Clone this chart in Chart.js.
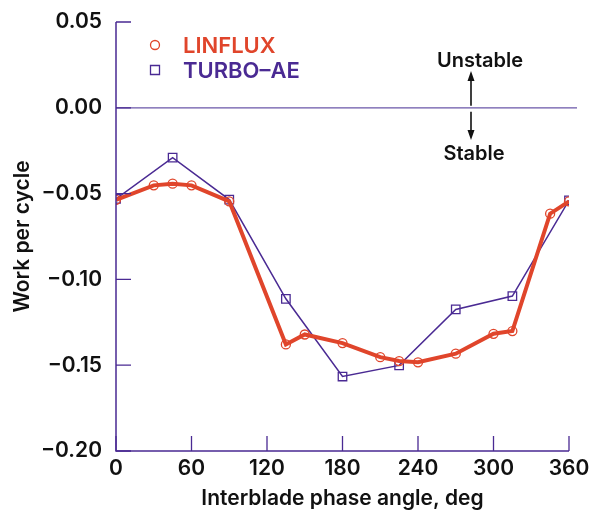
<!DOCTYPE html>
<html>
<head>
<meta charset="utf-8">
<script src="https://cdn.jsdelivr.net/npm/chart.js@4/dist/chart.umd.min.js"></script>
<style>
  html, body { margin: 0; padding: 0; background: #ffffff; }
  #wrap { width: 593px; height: 514px; position: relative; }
</style>
</head>
<body>
<div id="wrap"><canvas id="c" width="593" height="514"></canvas></div>
<script>
// ---- data ----
const linfluxAngles = [0, 30, 45, 60, 90, 135, 150, 180, 210, 225, 240, 270, 300, 315, 345, 360];
const linfluxWork   = [-0.0536, -0.0452, -0.0442, -0.0452, -0.0545, -0.1379, -0.1321, -0.1371, -0.1453, -0.1476, -0.1483, -0.1433, -0.1317, -0.1301, -0.0617, -0.0545];
const turboAngles   = [0, 45, 90, 135, 180, 225, 270, 315, 360];
const turboWork     = [-0.0531, -0.0290, -0.0535, -0.1113, -0.1566, -0.1501, -0.1175, -0.1097, -0.0539];
const xTickValues   = [0, 60, 120, 180, 240, 300, 360];
const yTickValues   = [0.05, 0.00, -0.05, -0.10, -0.15, -0.20];
const seriesLabels  = ['LINFLUX', 'TURBO\u2013AE'];
const xTitle = 'Interblade phase angle, deg';
const yTitle = 'Work per cycle';
const noteUp = 'Unstable';
const noteDown = 'Stable';

const RED = '#e0452b';
const PURPLE = '#4a2a93';
const FONT = 'Inter, "Liberation Sans", Arial, sans-serif';
const W = '600';

function toPts(xs, ys) { return xs.map((x, i) => ({ x: x, y: ys[i] })); }
function fmtY(v) {
  const s = Math.abs(v).toFixed(2);
  return (v < -1e-9 ? '\u2212' : '') + s;
}

const decorations = {
  id: 'decorations',
  beforeDatasetsDraw(chart) {
    const ctx = chart.ctx, a = chart.chartArea;
    const ys = chart.scales.y;
    ctx.save();
    const y0 = ys.getPixelForValue(0);
    ctx.strokeStyle = '#6a56a8';
    ctx.lineWidth = 1.2;
    ctx.beginPath();
    ctx.moveTo(a.left, y0);
    ctx.lineTo(a.right + 8, y0);
    ctx.stroke();
    ctx.restore();
  },
  afterDatasetsDraw(chart) {
    const ctx = chart.ctx, a = chart.chartArea;
    const xs = chart.scales.x, ys = chart.scales.y;
    const y0 = ys.getPixelForValue(0);
    ctx.save();
    ctx.strokeStyle = PURPLE;
    ctx.lineWidth = 1.5;
    ctx.beginPath();
    ctx.moveTo(a.left, a.top);
    ctx.lineTo(a.left, a.bottom);
    ctx.lineTo(a.right, a.bottom);
    ctx.stroke();
    ctx.lineWidth = 1.3;
    ctx.beginPath();
    xTickValues.forEach(v => {
      const px = xs.getPixelForValue(v);
      ctx.moveTo(px, a.bottom);
      ctx.lineTo(px, a.bottom - 15);
    });
    yTickValues.forEach(v => {
      const py = ys.getPixelForValue(v);
      ctx.moveTo(a.left, py);
      ctx.lineTo(a.left + 15, py);
    });
    ctx.stroke();

    // legend (inside plot, top-left)
    const ds = chart.data.datasets;
    ctx.font = W + ' 22px ' + FONT;
    ctx.textBaseline = 'middle';
    ctx.textAlign = 'left';
    const ly = [45, 70];
    ds.forEach((d, i) => {
      ctx.strokeStyle = d.borderColor;
      ctx.lineWidth = 1.3;
      ctx.beginPath();
      if (d.pointStyle === 'rect') {
        ctx.rect(155 - 4.5, ly[i] - 4.5, 9, 9);
      } else {
        ctx.arc(155, ly[i], 4.5, 0, Math.PI * 2);
      }
      ctx.stroke();
      ctx.fillStyle = d.borderColor;
      ctx.fillText(d.label, 183, ly[i] + 1);
    });

    // stability annotations
    const ax = 471;
    ctx.fillStyle = '#111111';
    ctx.strokeStyle = '#111111';
    ctx.textAlign = 'center';
    ctx.font = W + ' 20px ' + FONT;
    ctx.fillText(noteUp, 480, 61);
    ctx.fillText(noteDown, 474, 154);
    ctx.lineWidth = 1.6;
    ctx.beginPath();
    ctx.moveTo(ax, y0 - 2);
    ctx.lineTo(ax, 76);
    ctx.moveTo(ax, y0 + 4);
    ctx.lineTo(ax, 135);
    ctx.stroke();
    ctx.beginPath();
    ctx.moveTo(ax, 71); ctx.lineTo(ax - 3.5, 81); ctx.lineTo(ax + 3.5, 81); ctx.closePath();
    ctx.moveTo(ax, 140); ctx.lineTo(ax - 3.5, 130); ctx.lineTo(ax + 3.5, 130); ctx.closePath();
    ctx.fill();
    ctx.restore();
  }
};

new Chart(document.getElementById('c'), {
  type: 'scatter',
  data: {
    datasets: [
      {
        label: seriesLabels[0],
        data: toPts(linfluxAngles, linfluxWork),
        showLine: true,
        borderColor: RED,
        backgroundColor: 'rgba(0,0,0,0)',
        borderWidth: 4,
        pointStyle: 'circle',
        pointRadius: 4.5,
        pointBorderWidth: 1.3,
        pointBorderColor: RED,
        pointBackgroundColor: 'rgba(0,0,0,0)',
        tension: 0
      },
      {
        label: seriesLabels[1],
        data: toPts(turboAngles, turboWork),
        showLine: true,
        borderColor: PURPLE,
        backgroundColor: 'rgba(0,0,0,0)',
        borderWidth: 1.5,
        pointStyle: 'rect',
        pointRadius: 6,
        pointBorderWidth: 1.3,
        pointBorderColor: PURPLE,
        pointBackgroundColor: 'rgba(0,0,0,0)',
        tension: 0
      }
    ]
  },
  options: {
    responsive: false,
    animation: false,
    devicePixelRatio: 1,
    layout: { padding: { left: 0, top: 22, right: 24, bottom: 0 } },
    plugins: {
      legend: { display: false },
      tooltip: { enabled: false }
    },
    scales: {
      x: {
        type: 'linear',
        min: 0, max: 360,
        afterBuildTicks(scale) { scale.ticks = xTickValues.map(v => ({ value: v })); },
        afterFit(scale) { scale.height = 63; scale.paddingLeft = 0; scale.paddingRight = 0; },
        grid: { display: false, drawTicks: false },
        border: { display: false },
        ticks: {
          color: '#111111',
          font: { family: FONT, size: 21, weight: W },
          padding: 5,
          maxRotation: 0,
          autoSkip: false
        },
        title: {
          display: true,
          text: xTitle,
          color: '#111111',
          font: { family: FONT, size: 21, weight: W },
          padding: { top: 2, bottom: 3 }
        }
      },
      y: {
        type: 'linear',
        min: -0.20, max: 0.05,
        afterBuildTicks(scale) { scale.ticks = yTickValues.map(v => ({ value: v })); },
        afterFit(scale) { scale.width = 116; scale.paddingTop = 0; scale.paddingBottom = 0; },
        grid: { display: false, drawTicks: false },
        border: { display: false },
        ticks: {
          color: '#111111',
          font: { family: FONT, size: 21, weight: W },
          padding: 14,
          autoSkip: false,
          callback: (v) => fmtY(v)
        },
        title: {
          display: true,
          text: yTitle,
          color: '#111111',
          font: { family: FONT, size: 21, weight: W },
          padding: { top: 10, bottom: 0 }
        }
      }
    }
  },
  plugins: [decorations]
});
</script>
</body>
</html>
